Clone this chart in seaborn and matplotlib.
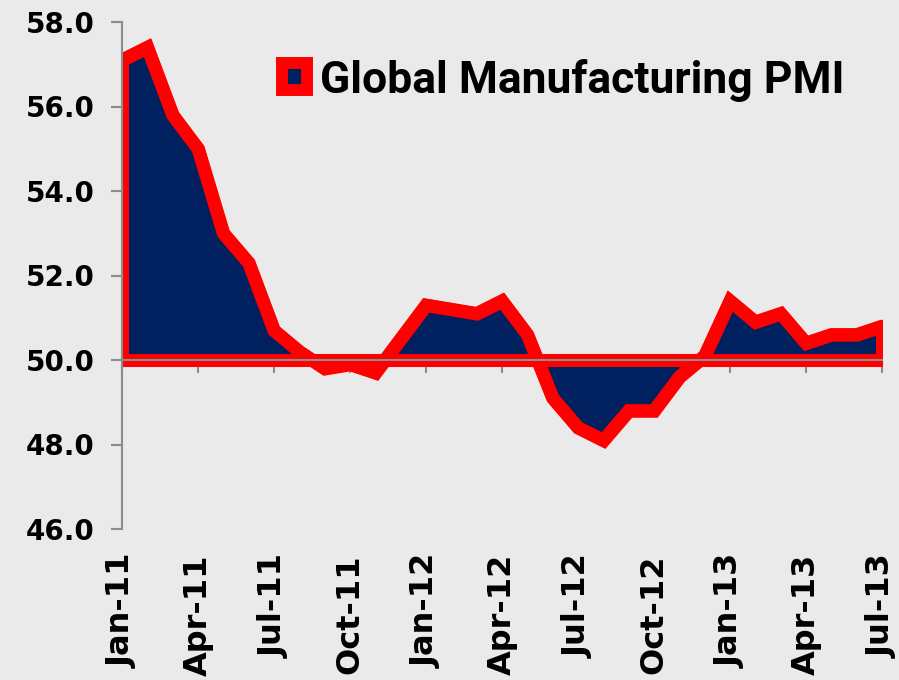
import pandas as pd
import matplotlib
matplotlib.use("Agg")
import matplotlib.pyplot as plt
import matplotlib.patches as mpatches
import seaborn as sns

# -----------------------
# Chart data
# -----------------------
months = [
    "Jan-11", "Feb-11", "Mar-11", "Apr-11", "May-11", "Jun-11",
    "Jul-11", "Aug-11", "Sep-11", "Oct-11", "Nov-11", "Dec-11",
    "Jan-12", "Feb-12", "Mar-12", "Apr-12", "May-12", "Jun-12",
    "Jul-12", "Aug-12", "Sep-12", "Oct-12", "Nov-12", "Dec-12",
    "Jan-13", "Feb-13", "Mar-13", "Apr-13", "May-13", "Jun-13",
    "Jul-13",
]
pmi = [
    57.1, 57.4, 55.8, 55.0, 53.0, 52.3,
    50.7, 50.2, 49.8, 49.9, 49.7, 50.5,
    51.3, 51.2, 51.1, 51.4, 50.6, 49.1,
    48.4, 48.1, 48.8, 48.8, 49.6, 50.1,
    51.4, 50.9, 51.1, 50.4, 50.6, 50.6,
    50.8,
]
tick_labels = ["Jan-11", "Apr-11", "Jul-11", "Oct-11", "Jan-12", "Apr-12",
               "Jul-12", "Oct-12", "Jan-13", "Apr-13", "Jul-13"]
y_ticks = [46, 48, 50, 52, 54, 56, 58]
baseline = 50.0
series_name = "Global Manufacturing PMI"

# -----------------------
# Styling
# -----------------------
bg = "#eaeaea"
navy = "#002060"
red = "#ff0000"
gray = "#8c8c8c"
edge_lw = 9.4

sns.set_theme(style="white")
plt.rcParams["font.family"] = ["DejaVu Sans"]

df = pd.DataFrame({"month": range(len(months)), "pmi": pmi})
tick_pos = [months.index(m) for m in tick_labels]

fig = plt.figure(figsize=(8.99, 6.8), dpi=100, facecolor=bg)
ax = fig.add_axes([122 / 899, 1 - 529 / 680, (882 - 122) / 899, (529 - 22) / 680])
ax.set_facecolor(bg)

# area between the 50 line and the index, red outline all round
ax.fill_between(df["month"], df["pmi"], baseline, facecolor=navy,
                edgecolor=red, linewidth=edge_lw, joinstyle="miter",
                zorder=1)
sns.lineplot(data=df, x="month", y="pmi", ax=ax, color=red,
             linewidth=edge_lw, solid_joinstyle="miter", zorder=2)

ax.set_xlim(0, len(months) - 1)
ax.set_ylim(y_ticks[0], y_ticks[-1])
ax.set_xlabel("")
ax.set_ylabel("")

for side in ["top", "right"]:
    ax.spines[side].set_visible(False)
for side in ["left", "bottom"]:
    ax.spines[side].set_color(gray)
    ax.spines[side].set_linewidth(1.5)
ax.spines["bottom"].set_position(("data", baseline))

# x ticks on the 50 line, labels at the bottom
ax.set_xticks(tick_pos)
ax.tick_params(axis="x", bottom=True, labelbottom=False, direction="out",
               length=9, width=1.5, color=gray)
sec = ax.secondary_xaxis("bottom")
sec.set_xticks(tick_pos, labels=tick_labels)
sec.tick_params(length=0, pad=18, labelrotation=90, labelsize=23,
                labelcolor="black")
sec.spines["bottom"].set_visible(False)
for lab in sec.get_xticklabels():
    lab.set_fontweight("bold")

ax.set_yticks(y_ticks, labels=[f"{v:.1f}" for v in y_ticks])
ax.tick_params(axis="y", left=True, direction="out", length=8, width=1.5,
               color=gray, pad=12, labelsize=20, labelcolor="black")
for lab in ax.get_yticklabels():
    lab.set_fontweight("bold")

handle = mpatches.Patch(facecolor=navy, edgecolor=red, linewidth=8.6,
                        joinstyle="round", label=series_name)
leg = ax.legend(handles=[handle], loc="center left",
                bbox_to_anchor=(282 / 899, 1 - 80 / 680),
                bbox_transform=fig.transFigure, frameon=False,
                prop={"family": ["Roboto", "DejaVu Sans"], "weight": "bold",
                      "size": 32},
                labelcolor="black", handlelength=0.56, handleheight=0.56,
                handletextpad=0.3, borderpad=0, borderaxespad=0)

fig.savefig("out.png", dpi=100, facecolor=bg)
